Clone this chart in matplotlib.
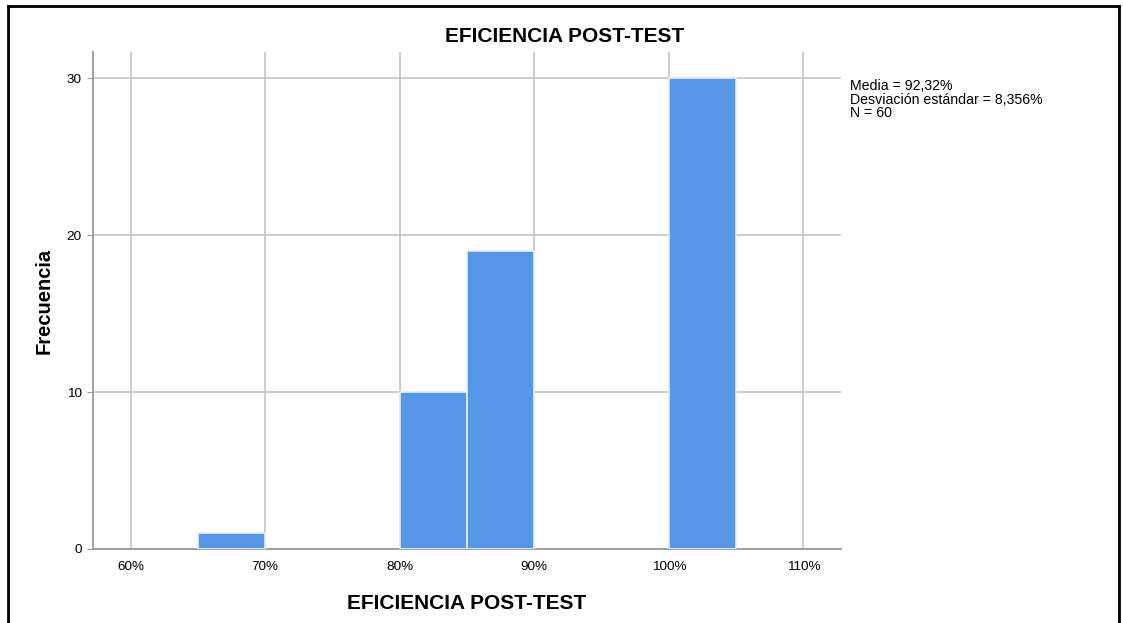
import matplotlib
matplotlib.use('Agg')
import matplotlib.pyplot as plt
from matplotlib.lines import Line2D

plt.rcParams['font.family'] = ['Liberation Sans', 'DejaVu Sans']

# histogram bins (left edge, %) and frequencies
bin_left = [65, 80, 85, 100]
bin_width = 5
counts = [1, 10, 19, 30]
x_ticks = [60, 70, 80, 90, 100, 110]
y_ticks = [0, 10, 20, 30]
stats_text = "Media = 92,32%\nDesviación estándar = 8,356%\nN = 60"
title = "EFICIENCIA POST-TEST"

fig = plt.figure(figsize=(11.23, 6.23), dpi=100)
ax = fig.add_axes([0.0828, 0.1188, 0.6661, 0.7977])

ax.set_axisbelow(True)
ax.grid(True, color='#c8c8c8', linewidth=1.3)
ax.bar(bin_left, counts, width=bin_width, align='edge',
       color='#5596e6', edgecolor='#e8f0fb', linewidth=1.2, zorder=3)

ax.set_xlim(57.2, 112.8)
ax.set_ylim(0, 31.66)
ax.set_xticks(x_ticks)
ax.set_xticklabels([f"{t}%" for t in x_ticks])
ax.set_yticks(y_ticks)
ax.tick_params(axis='x', length=0, pad=9, labelsize=9.7)
ax.tick_params(axis='y', length=4, color='#999999', pad=4, labelsize=9.7)

for s in ['top', 'right']:
    ax.spines[s].set_visible(False)
for s in ['left', 'bottom']:
    ax.spines[s].set_color('#999999')
    ax.spines[s].set_linewidth(1.3)

ax.set_xlabel(title, fontsize=15, fontweight='bold')
ax.xaxis.set_label_coords(0.5, -0.091)
ax.set_ylabel("Frecuencia", fontsize=14.5, fontweight='bold')
ax.yaxis.set_label_coords(-0.053, 0.5)
fig.text(0.503, 0.942, title, ha='center', va='center',
         fontsize=15, fontweight='bold')
fig.text(0.757, 0.873, stats_text, ha='left', va='top', fontsize=10.2,
         linespacing=0.95)

# frame around the chart
for xs, ys in [([0.0075, 0.0075], [0.0, 0.990]),
               ([0.0075, 0.9965], [0.990, 0.990]),
               ([0.9965, 0.9965], [0.990, 0.0])]:
    fig.add_artist(Line2D(xs, ys, transform=fig.transFigure,
                          color='black', linewidth=2))

fig.savefig('out.png', dpi=100)
